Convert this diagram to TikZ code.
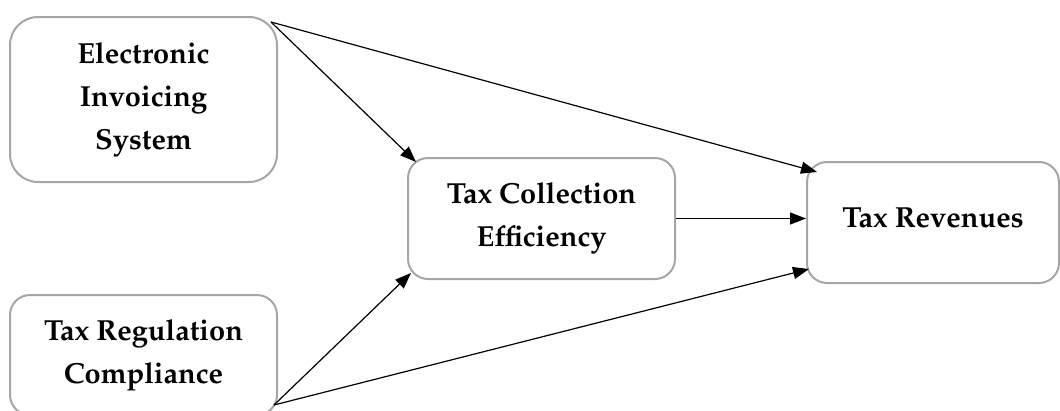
\documentclass[tikz,border=0pt]{standalone}
\usepackage[T1]{fontenc}
\usepackage{mathpazo}
\usetikzlibrary{arrows.meta}
\definecolor{boxgray}{HTML}{A6A6A6}
\tikzset{
  box/.style={draw=boxgray, line width=2pt, fill=white, align=center,
    font=\fontsize{29}{43}\selectfont\bfseries, inner sep=0pt},
  link/.style={draw=black, line width=1.2pt, -{Triangle[length=16pt,width=12pt]}}
}
\begin{document}
\begin{tikzpicture}[x=1pt,y=-1pt]
\useasboundingbox (0,0) rectangle (1060,410);
\clip (0,0) rectangle (1060,410);
\node[box, rounded corners=28pt, minimum width=267pt, minimum height=165pt] (eis) at (143.5,99.5) {Electronic\\Invoicing\\System};
\node[box, rounded corners=20pt, minimum width=267pt, minimum height=121pt] (tce) at (541.5,218.5) {Tax Collection\\Efficiency};
\node[box, rounded corners=20pt, minimum width=252pt, minimum height=121pt] (tr) at (933,222.5) {\raisebox{10pt}{Tax Revenues}};
\node[box, rounded corners=20pt, minimum width=267pt, minimum height=120pt] (trc) at (143.5,355) {Tax Regulation\\Compliance};
\coordinate (s1) at ([shift={(-7,6)}]eis.north east);
\coordinate (s2) at ([shift={(-4,50)}]trc.east);
\draw[link] (s1) -- ([shift={(11,11)}]tr.north west);
\draw[link] (s1) -- ([shift={(9,5)}]tce.north west);
\draw[link] (tce.east) -- (tce.east -| tr.west);
\draw[link] (s2) -- ([shift={(4,-7)}]tce.south west);
\draw[link] (s2) -- ([shift={(3,-15)}]tr.south west);
\end{tikzpicture}
\end{document}
